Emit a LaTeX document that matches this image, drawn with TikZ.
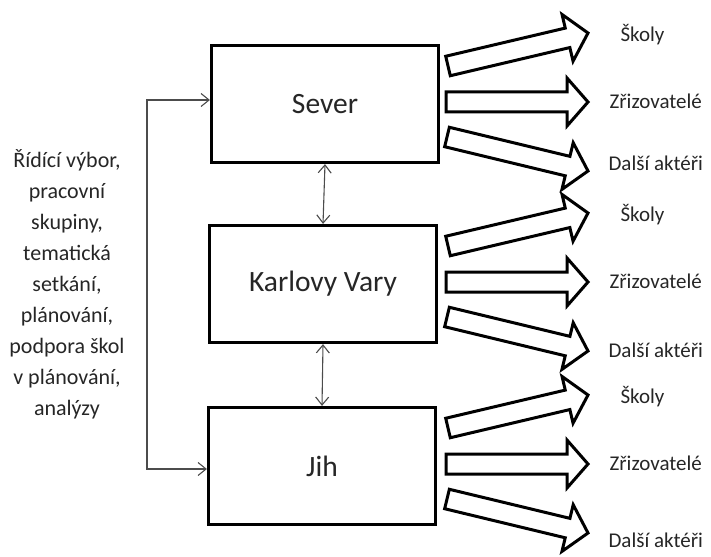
\documentclass[tikz,border=0pt]{standalone}
\usepackage{fontspec}
\setmainfont{Carlito}
\usepackage{tikz}
\usetikzlibrary{calc, arrows.meta, positioning}

% block arrow (outline) from #1 to #2
\newcommand{\blockarrow}[2]{%
  \draw[bigarrow] let \p1=(#1), \p2=(#2),
    \n1={atan2(\y2-\y1,\x2-\x1)}, \n2={veclen(\x2-\x1,\y2-\y1)} in
    [shift={(\p1)}, rotate=\n1]
    (0pt,-10pt) -- ({\n2*1pt-21pt},-10pt) -- ({\n2*1pt-21pt},-24pt)
    -- ({\n2*1pt},0pt) -- ({\n2*1pt-21pt},24pt) -- ({\n2*1pt-21pt},10pt)
    -- (0pt,10pt) -- cycle;}

\begin{document}
\begin{tikzpicture}[x=1pt, y=-1pt,
    region/.style={draw, line width=3.2pt, minimum width=227pt, minimum height=117pt,
      text=black!85, font=\fontsize{29.5}{36}\selectfont},
    bigarrow/.style={draw, line width=3pt, fill=white, line join=miter},
    link/.style={draw=black!70, line width=1.1pt,
      {Straight Barb[length=8pt,width=13pt]}-{Straight Barb[length=8pt,width=13pt]}},
    target/.style={anchor=west, text=black!85, font=\fontsize{21}{25}\selectfont}]

    \useasboundingbox (0,0) rectangle (711,556);

    % =================================================================
    % 1. THREE REGIONS
    % =================================================================
    \node[region] (sev) at (325,104) {Sever};
    \node[region] (kv)  at (323,284) {Karlovy Vary};
    \node[region] (jih) at (322,466) {Jih};

    % links between regions
    \draw[link] (sev.south) -- (kv.north);
    \draw[link] (kv.south) -- (jih.north);

    % =================================================================
    % 2. LEFT TEXT AND BRACKET
    % =================================================================
    \node[align=center, text=black!85, font=\fontsize{22}{31}\selectfont] (plan) at (67,284)
      {Řídící výbor,\\ pracovní\\ skupiny,\\ tematická\\ setkání,\\ plánování,\\ podpora škol\\ v plánování,\\ analýzy};

    \coordinate (brtop) at (147,100);
    \coordinate (brbot) at (147,469);
    \draw[link] (sev.west |- brtop) -- (brtop) -- (brbot) -- (jih.west |- brbot);

    % =================================================================
    % 3. OUTPUT ARROWS AND TARGETS
    % =================================================================
    \foreach \nm/\cy/\dy in {sev/104/59, kv/284/66, jih/466/74}{
      \coordinate (\nm-t1) at (448,\cy-38);
      \coordinate (\nm-h1) at (588,\cy-71);
      \coordinate (\nm-t2) at (446,\cy-2);
      \coordinate (\nm-h2) at (588,\cy-2);
      \coordinate (\nm-t3) at (447,\cy+33);
      \coordinate (\nm-h3) at (588,\cy+67);
      \blockarrow{\nm-t1}{\nm-h1}
      \blockarrow{\nm-t2}{\nm-h2}
      \blockarrow{\nm-t3}{\nm-h3}
      \node[target] (\nm-sk) at (617,\cy-69) {Školy};
      \node[target] (\nm-zr) at (606,\cy-3) {Zřizovatelé};
      \node[target] (\nm-da) at (605,\cy+\dy) {Další aktéři};
    }

\end{tikzpicture}
\end{document}
